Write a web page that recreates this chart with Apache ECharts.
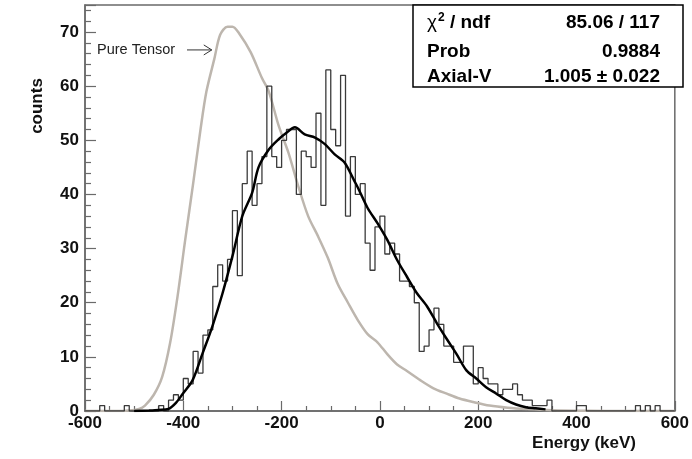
<!DOCTYPE html>
<html><head><meta charset="utf-8">
<script src="https://cdn.jsdelivr.net/npm/echarts@6/dist/echarts.min.js"></script>
<style>html,body{margin:0;padding:0;background:#fff}#c{width:692px;height:459px}</style>
</head><body><div id="c"></div>
<script>
// ---- data ----
const histStart = -600;          // keV, low edge of first bin
const binWidth = 10;             // keV
const binCounts = [
  0,0,0,1,0,0,0,0,1,0,      // -600 .. -510
  0,0,0,0,0,1,0,2,3,2,      // -500 .. -410
  6,5,11,7,14,15,23,27,24,28, // -400 .. -310
  37,25,42,48,38,42,47,60,47,45, // -300 .. -210
  50,52,52,40,48,47,45,55,38,63, // -200 .. -110
  52,49,62,36,47,40,42,31,26,34, // -100 .. -10
  36,29,31,29,24,24,23,20,11,12, // 0 .. 90
  15,19,16,12,12,9,9,12,12,5,    // 100 .. 190
  8,6,5,5,3,4,4,5,3,2,           // 200 .. 290
  2,1,1,1,2,0,0,0,0,0,           // 300 .. 390
  1,1,0,0,0,0,0,0,0,0,           // 400 .. 490
  0,0,1,0,1,0,1,0,0,0            // 500 .. 590
];
const tensorE = [-600,-540,-510,-490,-478,-460,-443,-427,-412,-396,-380,-365,-353,-337,-325,-310,-300,-286,-263,-240,-226,-206,-186,-166,-146,-126,-106,-86,-65,-45,-25,-5,15,35,55,82,109,136,162,190,223,260,300,350,420,500,600];
const tensorY = [0,0,0.1,0.4,1,3,6.3,12.5,21,31.7,42,52,59,65,69.5,71,71,69.7,66.3,61.5,59,52.7,47.7,41.5,36,32.3,28.3,23.5,20,16.8,14.2,12.7,10.5,8.6,7.4,5.7,4.2,3.2,2.3,1.65,1.0,0.6,0.35,0.15,0.05,0,0];
const fitE = [-500,-470,-450,-430,-415,-401,-381,-361,-341,-320,-300,-280,-260,-247,-226,-206,-190,-173,-153,-132,-112,-92,-72,-52,-45,-25,-5,15,35,55,75,96,116,136,156,176,196,216,237,257,277,297,317,337];
const fitY = [0,0.1,0.2,0.4,1.5,3.2,5.7,10.6,15.6,21.8,28.6,36,40.3,45,48.3,50.2,51.4,52.4,51.1,50.5,49.3,47.4,45.9,42.5,41.3,37.5,34.7,31.6,27.9,24.8,21.8,19.3,16.2,13.3,10.5,7.5,6,4.4,3.2,2,1.2,0.7,0.5,0.3];
const xTicks = {min:-600, max:600, step:200};
const yTicks = {min:0, max:75, step:10};
const statsRows = [["χ2 / ndf","85.06 / 117"],["Prob","0.9884"],["Axial-V","1.005 ± 0.022"]];
const annotation = {text:"Pure Tensor", tipE:-338, tipY:66.7};

// ---- chart ----
const FONT = '"Liberation Sans", Arial, sans-serif';
const histData = binCounts.map((c,i)=>[histStart + i*binWidth, c]);
histData.push([histStart + binCounts.length*binWidth, binCounts[binCounts.length-1]]);
const tensorData = tensorE.map((e,i)=>[e, tensorY[i]]);
const fitData = fitE.map((e,i)=>[e, fitY[i]]);
const axisCol = '#6a6a6a';

const chart = echarts.init(document.getElementById('c'), null, {renderer:'canvas'});
chart.setOption({
  animation:false,
  grid:{left:85,right:9,top:5,bottom:48,show:true,borderColor:axisCol,borderWidth:1.5,backgroundColor:'transparent'},
  xAxis:{type:'value',min:xTicks.min,max:xTicks.max,interval:xTicks.step,
    axisLine:{show:true,onZero:false,lineStyle:{color:axisCol,width:1.5}},
    axisTick:{show:true,inside:true,length:10,lineStyle:{color:axisCol,width:1.2}},
    minorTick:{show:true,splitNumber:4,length:5,lineStyle:{color:axisCol,width:1.2}},
    splitLine:{show:false},
    axisLabel:{color:'#111',fontWeight:'bold',fontSize:17,fontFamily:FONT,margin:4}},
  yAxis:{type:'value',min:yTicks.min,max:yTicks.max,interval:yTicks.step,
    axisLine:{show:true,onZero:false,lineStyle:{color:axisCol,width:1.5}},
    axisTick:{show:true,inside:true,length:11,lineStyle:{color:axisCol,width:1.2}},
    minorTick:{show:true,splitNumber:5,length:6,lineStyle:{color:axisCol,width:1.2}},
    splitLine:{show:false},
    axisLabel:{color:'#111',fontWeight:'bold',fontSize:17,fontFamily:FONT,margin:6,showMaxLabel:false}},
  series:[
    {type:'line',data:tensorData,smooth:0.3,showSymbol:false,lineStyle:{color:'#bdb6ae',width:2.5},z:1},
    {type:'line',data:histData,step:'end',showSymbol:false,lineStyle:{color:'#3a3a3a',width:1.3},z:2},
    {type:'line',data:fitData,smooth:0.3,showSymbol:false,lineStyle:{color:'#000',width:2.5},z:3}
  ]
});

const tip = chart.convertToPixel({gridIndex:0},[annotation.tipE, annotation.tipY]);
const g = [];
// y axis title
g.push({type:'text',x:37,y:106,rotation:Math.PI/2,style:{text:'counts',font:'bold 17px '+FONT,fill:'#111',align:'center',verticalAlign:'middle',textAlign:'center',textVerticalAlign:'middle'}});
// x axis title
g.push({type:'text',x:636,y:443,style:{text:'Energy (keV)',font:'bold 17px '+FONT,fill:'#111',align:'right',verticalAlign:'middle',textAlign:'right',textVerticalAlign:'middle'}});
// annotation
g.push({type:'text',x:97,y:tip[1],style:{text:annotation.text,font:'14.5px '+FONT,fill:'#222',align:'left',verticalAlign:'middle',textAlign:'left',textVerticalAlign:'middle'},z:50});
g.push({type:'line',shape:{x1:187,y1:tip[1],x2:tip[0]-2,y2:tip[1]},style:{stroke:'#333',lineWidth:1},z:50});
g.push({type:'polyline',shape:{points:[[tip[0]-10,tip[1]-5],[tip[0]-2,tip[1]],[tip[0]-10,tip[1]+5]]},style:{stroke:'#333',lineWidth:1,fill:null},z:50});
// stats box
g.push({type:'rect',shape:{x:413,y:5,width:270,height:82},style:{fill:'#fff',stroke:'#000',lineWidth:1.5},z:100});
const rowY = [23,51.5,77];
statsRows.forEach((r,i)=>{
  let left;
  if (i===0) {
    left = {type:'text',x:427,y:rowY[i],style:{text:'{g|χ}{s|2}{b| / ndf}',rich:{g:{font:'19px '+FONT,fill:'#000'},s:{font:'bold 12px '+FONT,fill:'#000',verticalAlign:'top',padding:[0,0,10,1]},b:{font:'bold 19px '+FONT,fill:'#000'}},verticalAlign:'middle',textVerticalAlign:'middle'},z:101};
  } else {
    left = {type:'text',x:427,y:rowY[i],style:{text:r[0],font:'bold 19px '+FONT,fill:'#000',verticalAlign:'middle',textVerticalAlign:'middle'},z:101};
  }
  g.push(left);
  g.push({type:'text',x:660,y:rowY[i],style:{text:r[1],font:'bold 19px '+FONT,fill:'#000',align:'right',textAlign:'right',verticalAlign:'middle',textVerticalAlign:'middle'},z:101});
});
chart.setOption({graphic:g});
</script>
</body></html>
